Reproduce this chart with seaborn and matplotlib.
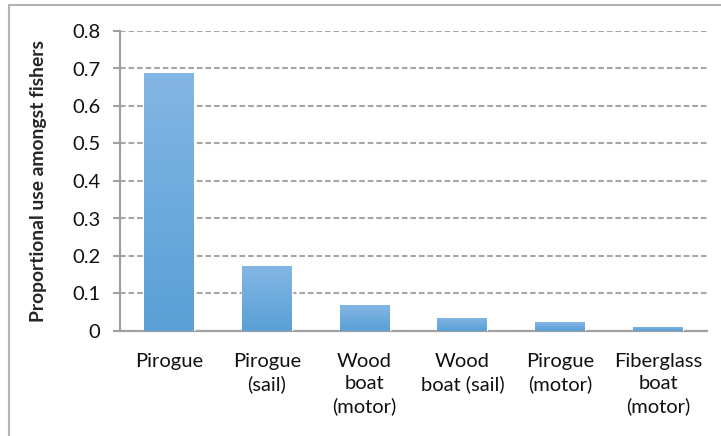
import matplotlib
matplotlib.use("Agg")
import matplotlib.pyplot as plt
from matplotlib.lines import Line2D
from matplotlib.colors import LinearSegmentedColormap
import numpy as np
import pandas as pd
import seaborn as sns

# data
boats = ["Pirogue", "Pirogue\n(sail)", "Wood\nboat\n(motor)", "Wood\nboat (sail)",
         "Pirogue\n(motor)", "Fiberglass\nboat\n(motor)"]
prop_use = [0.687, 0.173, 0.069, 0.035, 0.024, 0.011]
yticks = [0, 0.1, 0.2, 0.3, 0.4, 0.5, 0.6, 0.7, 0.8]
ytick_labels = ["0", "0.1", "0.2", "0.3", "0.4", "0.5", "0.6", "0.7", "0.8"]

df = pd.DataFrame({"boat": boats, "prop": prop_use})

sns.set_style("white")
plt.rcParams["font.family"] = ["Lato", "DejaVu Sans"]
plt.rcParams["text.color"] = "#111111"

fig = plt.figure(figsize=(7.21, 4.36), dpi=100)
ax = fig.add_axes([120 / 721, 1 - 331 / 436, 587 / 721, 300 / 436])

sns.barplot(data=df, x="boat", y="prop", color="#62A5DC", width=0.51,
            saturation=1, ax=ax, zorder=3)

# vertical gradient on each bar (lighter at top)
grad = LinearSegmentedColormap.from_list("bar", ["#58A0D6", "#84B6E4"])
gimg = np.linspace(0, 1, 256).reshape(-1, 1)
for bar in ax.patches:
    x0, y0 = bar.get_x(), bar.get_y()
    w, h = bar.get_width(), bar.get_height()
    im = ax.imshow(gimg, cmap=grad, origin="lower", aspect="auto",
                   extent=[x0, x0 + w, y0, y0 + h], zorder=4)
    im.set_clip_path(bar)
ax.set_xlim(-0.5, len(boats) - 0.5)
ax.set_ylim(0, 0.8)

ax.set_yticks(yticks)
ax.set_yticklabels(ytick_labels, fontsize=14.5, color="#111111")
ax.yaxis.grid(True, linestyle=(0, (2.7, 1.4)), color="#A6A6A6", linewidth=1.5, zorder=0)
ax.set_axisbelow(True)

ax.set_xticks(range(len(boats)))
ax.set_xticklabels(boats, fontsize=14.5, linespacing=1.33, va="top", color="#111111")
ax.tick_params(axis="x", which="major", length=0, pad=16)
ax.set_xticks(np.arange(-0.5, len(boats), 1), minor=True)
ax.tick_params(axis="x", which="minor", length=6, width=1.5, color="#A0A0A0")
ax.tick_params(axis="y", length=5, width=1.5, color="#A0A0A0", pad=9, left=True)

ax.set_xlabel("")
ax.set_ylabel("Proportional use amongst fishers", fontsize=13.9, fontweight="bold",
              labelpad=18)

for side in ["top", "right"]:
    ax.spines[side].set_visible(False)
for side in ["left", "bottom"]:
    ax.spines[side].set_color("#A0A0A0")
    ax.spines[side].set_linewidth(1.6)

# outer chart border (only top and left edges fall inside the image)
fig.add_artist(Line2D([9 / 721, 1], [1 - 5 / 436, 1 - 5 / 436], transform=fig.transFigure,
                      color="#B3B3B3", linewidth=1.5))
fig.add_artist(Line2D([9 / 721, 9 / 721], [0, 1 - 5 / 436], transform=fig.transFigure,
                      color="#B3B3B3", linewidth=1.5))

fig.savefig("out.png", dpi=100)
